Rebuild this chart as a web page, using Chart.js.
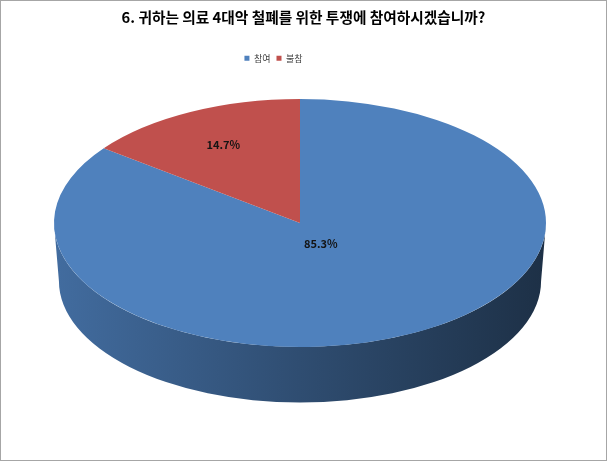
<!DOCTYPE html>
<html>
<head>
<meta charset="utf-8">
<script src="https://cdn.jsdelivr.net/npm/chart.js@4"></script>
<style>
  html, body { margin: 0; padding: 0; background: #fff; }
  #frame {
    width: 607px; height: 461px; box-sizing: border-box;
    border: 1px solid #a6a6a6; position: relative;
  }
  canvas { display: block; }
</style>
</head>
<body>
<div id="frame"><canvas id="pieChart" width="605" height="459"></canvas></div>
<script>
const categories = ['참여', '불참'];
const values = [85.3, 14.7];
const colors = ['#4F81BD', '#C0504D'];

// look of the fake 3D disc
const tilt = 0.504;
const depth = 58;
const center3d = { x: 299, y: 222 };

function shade(hex, f) {
    const n = parseInt(hex.slice(1), 16);
    const r = Math.round(((n >> 16) & 255) * f);
    const g = Math.round(((n >> 8) & 255) * f);
    const b = Math.round((n & 255) * f);
    return 'rgb(' + r + ',' + g + ',' + b + ')';
}

// parts of [s, e] that face the viewer (0..PI in canvas angles)
function frontParts(s, e) {
    const parts = [];
    for (let k = -2; k <= 2; k++) {
        const lo = Math.max(s, k * 2 * Math.PI);
        const hi = Math.min(e, k * 2 * Math.PI + Math.PI);
        if (hi > lo) parts.push([lo, hi]);
    }
    return parts;
}

const pie3d = {
    id: 'pie3d',
    afterLayout(chart) {
        // excel puts the legend a bit left of centre
        chart.legend.left -= 30;
        chart.legend.right -= 30;
    },
    beforeDatasetsDraw(chart) {
        const ctx = chart.ctx;
        const meta = chart.getDatasetMeta(0);
        meta.data.forEach((arc, i) => {
            const p = arc.getProps(['startAngle', 'endAngle', 'outerRadius'], true);
            const rx = p.outerRadius, ry = rx * tilt;
            const cx = center3d.x, cy = center3d.y;
            frontParts(p.startAngle, p.endAngle).forEach(([a, b]) => {
                const grad = ctx.createLinearGradient(cx - rx, 0, cx + rx, 0);
                grad.addColorStop(0, shade(colors[i], 0.84));
                grad.addColorStop(0.5, shade(colors[i], 0.6));
                grad.addColorStop(1, shade(colors[i], 0.37));
                ctx.beginPath();
                ctx.ellipse(cx, cy, rx, ry, 0, a, b);
                ctx.ellipse(cx, cy + depth, rx * 0.98, ry * 0.98, 0, b, a, true);
                ctx.closePath();
                ctx.fillStyle = grad;
                ctx.fill();
            });
        });
        const c = meta.data[0];
        ctx.save();
        ctx.translate(center3d.x, center3d.y);
        ctx.scale(1, tilt);
        ctx.translate(-c.x, -c.y);
    },
    afterDatasetsDraw(chart) {
        const ctx = chart.ctx;
        ctx.restore();
        const meta = chart.getDatasetMeta(0);
        ctx.save();
        ctx.font = 'bold 11px "Noto Sans CJK KR", "DejaVu Sans", sans-serif';
        ctx.fillStyle = '#141414';
        ctx.textAlign = 'center';
        ctx.textBaseline = 'middle';
        meta.data.forEach((arc, i) => {
            const p = arc.getProps(['startAngle', 'endAngle', 'outerRadius'], true);
            const mid = (p.startAngle + p.endAngle) / 2;
            const f = values[i] > 50 ? 0.19 : 0.7;
            const x = center3d.x + Math.cos(mid) * p.outerRadius * f;
            const y = center3d.y + Math.sin(mid) * p.outerRadius * tilt * f;
            ctx.fillText(values[i].toFixed(1) + '%', x, y);
        });
        ctx.restore();
    }
};

new Chart(document.getElementById('pieChart'), {
    type: 'pie',
    data: {
        labels: categories,
        datasets: [{
            data: values,
            backgroundColor: colors,
            borderWidth: 0
        }]
    },
    options: {
        responsive: false,
        animation: false,
        events: [],
        radius: 246,
        layout: { padding: { top: 8 } },
        plugins: {
            title: {
                display: true,
                text: '6. 귀하는 의료 4대악 철폐를 위한 투쟁에 참여하시겠습니까?',
                color: '#000',
                font: { family: '"Noto Sans CJK KR", sans-serif', size: 14.7, weight: 'bold' },
                padding: { top: 0, bottom: 21 }
            },
            legend: {
                position: 'top',
                labels: {
                    boxWidth: 5,
                    boxHeight: 5,
                    padding: 6,
                    color: '#404040',
                    font: { family: '"Noto Sans CJK KR", sans-serif', size: 9 }
                }
            },
            tooltip: { enabled: false }
        }
    },
    plugins: [pie3d]
});
</script>
</body>
</html>
